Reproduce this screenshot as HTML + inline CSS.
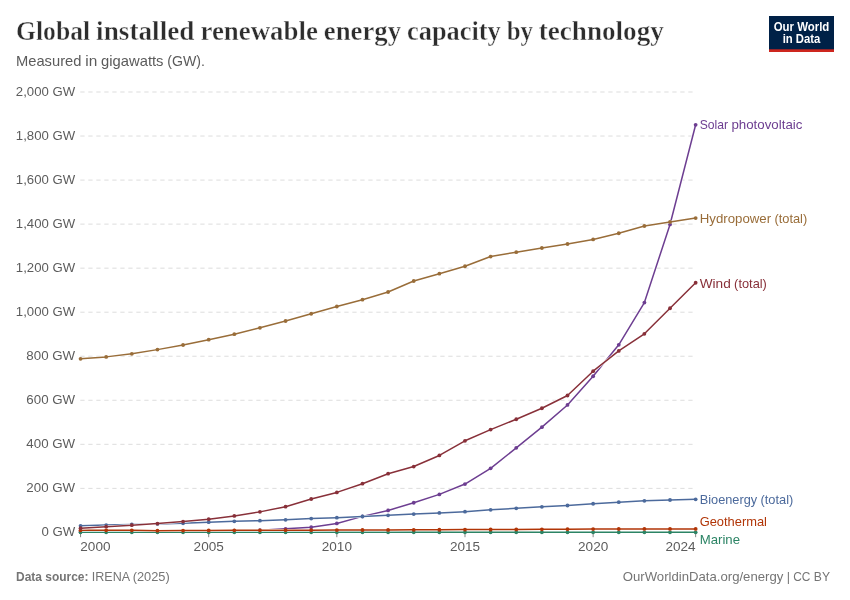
<!DOCTYPE html>
<html lang="en"><head><meta charset="utf-8"><title>Global installed renewable energy capacity by technology</title>
<style>html,body{margin:0;padding:0;background:#fff}svg{display:block}text{font-family:'Liberation Sans', sans-serif;} .t{font-family:'Liberation Serif', serif;}</style></head><body>
<svg width="850" height="600" viewBox="0 0 850 600">
<rect width="850" height="600" fill="#fff"/>
<text x="16.00" y="40" class="t" font-size="27" font-weight="700" fill="#2d2d2d" stroke="#fff" stroke-width="0.4"><tspan x="16.00" textLength="74.14" lengthAdjust="spacingAndGlyphs">Global</tspan> <tspan x="96.12" textLength="98.33" lengthAdjust="spacingAndGlyphs">installed</tspan> <tspan x="200.44" textLength="117.44" lengthAdjust="spacingAndGlyphs">renewable</tspan> <tspan x="323.86" textLength="77.19" lengthAdjust="spacingAndGlyphs">energy</tspan> <tspan x="407.03" textLength="93.69" lengthAdjust="spacingAndGlyphs">capacity</tspan> <tspan x="506.70" textLength="26.33" lengthAdjust="spacingAndGlyphs">by</tspan> <tspan x="538.70" textLength="125.12" lengthAdjust="spacingAndGlyphs">technology</tspan></text>
<text x="16.00" y="66" font-size="15" fill="#5b5b5b"><tspan x="16.00" textLength="65.41" lengthAdjust="spacingAndGlyphs">Measured</tspan> <tspan x="85.25" textLength="11.98" lengthAdjust="spacingAndGlyphs">in</tspan> <tspan x="101.08" textLength="62.41" lengthAdjust="spacingAndGlyphs">gigawatts</tspan> <tspan x="167.33" textLength="37.67" lengthAdjust="spacingAndGlyphs">(GW).</tspan></text>
<g><rect x="769" y="16" width="65" height="36" fill="#002147"/><rect x="769" y="49.3" width="65" height="2.7" fill="#ce261e"/>
<text x="773.70" y="31" font-size="12" font-weight="700" fill="#fff" textLength="55.60" lengthAdjust="spacingAndGlyphs">Our World</text>
<text x="782.65" y="43" font-size="12" font-weight="700" fill="#fff" textLength="37.70" lengthAdjust="spacingAndGlyphs">in Data</text>
</g>
<g stroke="#ddd" stroke-width="1" stroke-dasharray="4.3,3.7" fill="none">
<line x1="80.3" y1="488.36" x2="695.5" y2="488.36"/>
<line x1="80.3" y1="444.32" x2="695.5" y2="444.32"/>
<line x1="80.3" y1="400.28" x2="695.5" y2="400.28"/>
<line x1="80.3" y1="356.24" x2="695.5" y2="356.24"/>
<line x1="80.3" y1="312.20" x2="695.5" y2="312.20"/>
<line x1="80.3" y1="268.16" x2="695.5" y2="268.16"/>
<line x1="80.3" y1="224.12" x2="695.5" y2="224.12"/>
<line x1="80.3" y1="180.08" x2="695.5" y2="180.08"/>
<line x1="80.3" y1="136.04" x2="695.5" y2="136.04"/>
<line x1="80.3" y1="92.00" x2="695.5" y2="92.00"/>
</g>
<line x1="80.3" y1="532.4" x2="695.5" y2="532.4" stroke="#999" stroke-width="1"/>
<g font-size="13" fill="#5c5c5c">
<text x="41.42" y="536" textLength="33.78" lengthAdjust="spacingAndGlyphs">0 GW</text>
<text x="26.34" y="492" textLength="48.86" lengthAdjust="spacingAndGlyphs">200 GW</text>
<text x="26.34" y="448" textLength="48.86" lengthAdjust="spacingAndGlyphs">400 GW</text>
<text x="26.34" y="404" textLength="48.86" lengthAdjust="spacingAndGlyphs">600 GW</text>
<text x="26.34" y="360" textLength="48.86" lengthAdjust="spacingAndGlyphs">800 GW</text>
<text x="15.84" y="316" textLength="59.36" lengthAdjust="spacingAndGlyphs">1,000 GW</text>
<text x="15.84" y="272" textLength="59.36" lengthAdjust="spacingAndGlyphs">1,200 GW</text>
<text x="15.84" y="228" textLength="59.36" lengthAdjust="spacingAndGlyphs">1,400 GW</text>
<text x="15.84" y="184" textLength="59.36" lengthAdjust="spacingAndGlyphs">1,600 GW</text>
<text x="15.84" y="140" textLength="59.36" lengthAdjust="spacingAndGlyphs">1,800 GW</text>
<text x="15.84" y="96" textLength="59.36" lengthAdjust="spacingAndGlyphs">2,000 GW</text>
</g>
<g stroke="#888" stroke-width="1">
<line x1="80.55" y1="532.4" x2="80.55" y2="537.2"/>
<line x1="208.70" y1="532.4" x2="208.70" y2="537.2"/>
<line x1="336.84" y1="532.4" x2="336.84" y2="537.2"/>
<line x1="464.99" y1="532.4" x2="464.99" y2="537.2"/>
<line x1="593.13" y1="532.4" x2="593.13" y2="537.2"/>
<line x1="695.65" y1="532.4" x2="695.65" y2="537.2"/>
</g>
<g font-size="13" fill="#5c5c5c">
<text x="80.3" y="551" textLength="30.17" lengthAdjust="spacingAndGlyphs">2000</text>
<text x="193.61" y="551" textLength="30.17" lengthAdjust="spacingAndGlyphs">2005</text>
<text x="321.76" y="551" textLength="30.17" lengthAdjust="spacingAndGlyphs">2010</text>
<text x="449.90" y="551" textLength="30.17" lengthAdjust="spacingAndGlyphs">2015</text>
<text x="578.05" y="551" textLength="30.17" lengthAdjust="spacingAndGlyphs">2020</text>
<text x="665.43" y="551" textLength="30.17" lengthAdjust="spacingAndGlyphs">2024</text>
</g>
<g><path d="M80.55,531.82 L106.18,531.76 L131.81,531.69 L157.44,531.56 L183.07,531.34 L208.70,531.01 L234.32,530.68 L259.95,530.13 L285.58,528.81 L311.21,527.16 L336.84,523.42 L362.47,516.38 L388.10,510.44 L413.73,502.74 L439.36,494.38 L464.99,484.04 L490.62,468.31 L516.25,447.85 L541.88,427.17 L567.50,404.95 L593.13,376.24 L618.76,344.78 L644.39,302.54 L670.02,224.44 L695.65,124.78" fill="none" stroke="#fff" stroke-width="2.5" stroke-linejoin="round" stroke-linecap="butt"/>
<path d="M80.55,531.82 L106.18,531.76 L131.81,531.69 L157.44,531.56 L183.07,531.34 L208.70,531.01 L234.32,530.68 L259.95,530.13 L285.58,528.81 L311.21,527.16 L336.84,523.42 L362.47,516.38 L388.10,510.44 L413.73,502.74 L439.36,494.38 L464.99,484.04 L490.62,468.31 L516.25,447.85 L541.88,427.17 L567.50,404.95 L593.13,376.24 L618.76,344.78 L644.39,302.54 L670.02,224.44 L695.65,124.78" fill="none" stroke="#6D3E91" stroke-width="1.5" stroke-linejoin="round"/>
<g fill="#6D3E91"><circle cx="80.55" cy="531.82" r="1.9"/><circle cx="106.18" cy="531.76" r="1.9"/><circle cx="131.81" cy="531.69" r="1.9"/><circle cx="157.44" cy="531.56" r="1.9"/><circle cx="183.07" cy="531.34" r="1.9"/><circle cx="208.70" cy="531.01" r="1.9"/><circle cx="234.32" cy="530.68" r="1.9"/><circle cx="259.95" cy="530.13" r="1.9"/><circle cx="285.58" cy="528.81" r="1.9"/><circle cx="311.21" cy="527.16" r="1.9"/><circle cx="336.84" cy="523.42" r="1.9"/><circle cx="362.47" cy="516.38" r="1.9"/><circle cx="388.10" cy="510.44" r="1.9"/><circle cx="413.73" cy="502.74" r="1.9"/><circle cx="439.36" cy="494.38" r="1.9"/><circle cx="464.99" cy="484.04" r="1.9"/><circle cx="490.62" cy="468.31" r="1.9"/><circle cx="516.25" cy="447.85" r="1.9"/><circle cx="541.88" cy="427.17" r="1.9"/><circle cx="567.50" cy="404.95" r="1.9"/><circle cx="593.13" cy="376.24" r="1.9"/><circle cx="618.76" cy="344.78" r="1.9"/><circle cx="644.39" cy="302.54" r="1.9"/><circle cx="670.02" cy="224.44" r="1.9"/><circle cx="695.65" cy="124.78" r="1.9"/></g></g>
<g><path d="M80.55,532.35 L106.18,532.35 L131.81,532.35 L157.44,532.35 L183.07,532.35 L208.70,532.35 L234.32,532.35 L259.95,532.35 L285.58,532.35 L311.21,532.35 L336.84,532.35 L362.47,532.31 L388.10,532.31 L413.73,532.31 L439.36,532.31 L464.99,532.31 L490.62,532.31 L516.25,532.31 L541.88,532.31 L567.50,532.31 L593.13,532.31 L618.76,532.31 L644.39,532.31 L670.02,532.31 L695.65,532.31" fill="none" stroke="#fff" stroke-width="2.5" stroke-linejoin="round" stroke-linecap="butt"/>
<path d="M80.55,532.35 L106.18,532.35 L131.81,532.35 L157.44,532.35 L183.07,532.35 L208.70,532.35 L234.32,532.35 L259.95,532.35 L285.58,532.35 L311.21,532.35 L336.84,532.35 L362.47,532.31 L388.10,532.31 L413.73,532.31 L439.36,532.31 L464.99,532.31 L490.62,532.31 L516.25,532.31 L541.88,532.31 L567.50,532.31 L593.13,532.31 L618.76,532.31 L644.39,532.31 L670.02,532.31 L695.65,532.31" fill="none" stroke="#2C8465" stroke-width="1.5" stroke-linejoin="round"/>
<g fill="#2C8465"><circle cx="80.55" cy="532.35" r="1.9"/><circle cx="106.18" cy="532.35" r="1.9"/><circle cx="131.81" cy="532.35" r="1.9"/><circle cx="157.44" cy="532.35" r="1.9"/><circle cx="183.07" cy="532.35" r="1.9"/><circle cx="208.70" cy="532.35" r="1.9"/><circle cx="234.32" cy="532.35" r="1.9"/><circle cx="259.95" cy="532.35" r="1.9"/><circle cx="285.58" cy="532.35" r="1.9"/><circle cx="311.21" cy="532.35" r="1.9"/><circle cx="336.84" cy="532.35" r="1.9"/><circle cx="362.47" cy="532.31" r="1.9"/><circle cx="388.10" cy="532.31" r="1.9"/><circle cx="413.73" cy="532.31" r="1.9"/><circle cx="439.36" cy="532.31" r="1.9"/><circle cx="464.99" cy="532.31" r="1.9"/><circle cx="490.62" cy="532.31" r="1.9"/><circle cx="516.25" cy="532.31" r="1.9"/><circle cx="541.88" cy="532.31" r="1.9"/><circle cx="567.50" cy="532.31" r="1.9"/><circle cx="593.13" cy="532.31" r="1.9"/><circle cx="618.76" cy="532.31" r="1.9"/><circle cx="644.39" cy="532.31" r="1.9"/><circle cx="670.02" cy="532.31" r="1.9"/><circle cx="695.65" cy="532.31" r="1.9"/></g></g>
<g><path d="M80.55,530.35 L106.18,530.33 L131.81,530.28 L157.44,530.64 L183.07,530.57 L208.70,530.44 L234.32,530.35 L259.95,530.28 L285.58,530.22 L311.21,530.13 L336.84,530.04 L362.47,530.02 L388.10,529.93 L413.73,529.84 L439.36,529.73 L464.99,529.60 L490.62,529.51 L516.25,529.40 L541.88,529.29 L567.50,529.16 L593.13,529.10 L618.76,528.99 L644.39,528.96 L670.02,528.92 L695.65,528.88" fill="none" stroke="#fff" stroke-width="2.5" stroke-linejoin="round" stroke-linecap="butt"/>
<path d="M80.55,530.35 L106.18,530.33 L131.81,530.28 L157.44,530.64 L183.07,530.57 L208.70,530.44 L234.32,530.35 L259.95,530.28 L285.58,530.22 L311.21,530.13 L336.84,530.04 L362.47,530.02 L388.10,529.93 L413.73,529.84 L439.36,529.73 L464.99,529.60 L490.62,529.51 L516.25,529.40 L541.88,529.29 L567.50,529.16 L593.13,529.10 L618.76,528.99 L644.39,528.96 L670.02,528.92 L695.65,528.88" fill="none" stroke="#B13507" stroke-width="1.5" stroke-linejoin="round"/>
<g fill="#B13507"><circle cx="80.55" cy="530.35" r="1.9"/><circle cx="106.18" cy="530.33" r="1.9"/><circle cx="131.81" cy="530.28" r="1.9"/><circle cx="157.44" cy="530.64" r="1.9"/><circle cx="183.07" cy="530.57" r="1.9"/><circle cx="208.70" cy="530.44" r="1.9"/><circle cx="234.32" cy="530.35" r="1.9"/><circle cx="259.95" cy="530.28" r="1.9"/><circle cx="285.58" cy="530.22" r="1.9"/><circle cx="311.21" cy="530.13" r="1.9"/><circle cx="336.84" cy="530.04" r="1.9"/><circle cx="362.47" cy="530.02" r="1.9"/><circle cx="388.10" cy="529.93" r="1.9"/><circle cx="413.73" cy="529.84" r="1.9"/><circle cx="439.36" cy="529.73" r="1.9"/><circle cx="464.99" cy="529.60" r="1.9"/><circle cx="490.62" cy="529.51" r="1.9"/><circle cx="516.25" cy="529.40" r="1.9"/><circle cx="541.88" cy="529.29" r="1.9"/><circle cx="567.50" cy="529.16" r="1.9"/><circle cx="593.13" cy="529.10" r="1.9"/><circle cx="618.76" cy="528.99" r="1.9"/><circle cx="644.39" cy="528.96" r="1.9"/><circle cx="670.02" cy="528.92" r="1.9"/><circle cx="695.65" cy="528.88" r="1.9"/></g></g>
<g><path d="M80.55,525.84 L106.18,525.07 L131.81,524.41 L157.44,523.97 L183.07,523.31 L208.70,522.21 L234.32,521.33 L259.95,520.67 L285.58,519.79 L311.21,518.58 L336.84,517.70 L362.47,516.49 L388.10,515.28 L413.73,514.07 L439.36,512.97 L464.99,511.65 L490.62,509.78 L516.25,508.35 L541.88,506.81 L567.50,505.49 L593.13,503.73 L618.76,502.19 L644.39,500.87 L670.02,499.99 L695.65,499.33" fill="none" stroke="#fff" stroke-width="2.5" stroke-linejoin="round" stroke-linecap="butt"/>
<path d="M80.55,525.84 L106.18,525.07 L131.81,524.41 L157.44,523.97 L183.07,523.31 L208.70,522.21 L234.32,521.33 L259.95,520.67 L285.58,519.79 L311.21,518.58 L336.84,517.70 L362.47,516.49 L388.10,515.28 L413.73,514.07 L439.36,512.97 L464.99,511.65 L490.62,509.78 L516.25,508.35 L541.88,506.81 L567.50,505.49 L593.13,503.73 L618.76,502.19 L644.39,500.87 L670.02,499.99 L695.65,499.33" fill="none" stroke="#4C6A9C" stroke-width="1.5" stroke-linejoin="round"/>
<g fill="#4C6A9C"><circle cx="80.55" cy="525.84" r="1.9"/><circle cx="106.18" cy="525.07" r="1.9"/><circle cx="131.81" cy="524.41" r="1.9"/><circle cx="157.44" cy="523.97" r="1.9"/><circle cx="183.07" cy="523.31" r="1.9"/><circle cx="208.70" cy="522.21" r="1.9"/><circle cx="234.32" cy="521.33" r="1.9"/><circle cx="259.95" cy="520.67" r="1.9"/><circle cx="285.58" cy="519.79" r="1.9"/><circle cx="311.21" cy="518.58" r="1.9"/><circle cx="336.84" cy="517.70" r="1.9"/><circle cx="362.47" cy="516.49" r="1.9"/><circle cx="388.10" cy="515.28" r="1.9"/><circle cx="413.73" cy="514.07" r="1.9"/><circle cx="439.36" cy="512.97" r="1.9"/><circle cx="464.99" cy="511.65" r="1.9"/><circle cx="490.62" cy="509.78" r="1.9"/><circle cx="516.25" cy="508.35" r="1.9"/><circle cx="541.88" cy="506.81" r="1.9"/><circle cx="567.50" cy="505.49" r="1.9"/><circle cx="593.13" cy="503.73" r="1.9"/><circle cx="618.76" cy="502.19" r="1.9"/><circle cx="644.39" cy="500.87" r="1.9"/><circle cx="670.02" cy="499.99" r="1.9"/><circle cx="695.65" cy="499.33" r="1.9"/></g></g>
<g><path d="M80.55,528.26 L106.18,526.72 L131.81,525.18 L157.44,523.53 L183.07,521.53 L208.70,519.15 L234.32,515.94 L259.95,511.87 L285.58,506.70 L311.21,499.00 L336.84,492.40 L362.47,483.71 L388.10,473.70 L413.73,466.55 L439.36,455.44 L464.99,440.81 L490.62,429.59 L516.25,419.25 L541.88,408.25 L567.50,395.49 L593.13,371.18 L618.76,350.94 L644.39,333.78 L670.02,308.26 L695.65,282.74" fill="none" stroke="#fff" stroke-width="2.5" stroke-linejoin="round" stroke-linecap="butt"/>
<path d="M80.55,528.26 L106.18,526.72 L131.81,525.18 L157.44,523.53 L183.07,521.53 L208.70,519.15 L234.32,515.94 L259.95,511.87 L285.58,506.70 L311.21,499.00 L336.84,492.40 L362.47,483.71 L388.10,473.70 L413.73,466.55 L439.36,455.44 L464.99,440.81 L490.62,429.59 L516.25,419.25 L541.88,408.25 L567.50,395.49 L593.13,371.18 L618.76,350.94 L644.39,333.78 L670.02,308.26 L695.65,282.74" fill="none" stroke="#883039" stroke-width="1.5" stroke-linejoin="round"/>
<g fill="#883039"><circle cx="80.55" cy="528.26" r="1.9"/><circle cx="106.18" cy="526.72" r="1.9"/><circle cx="131.81" cy="525.18" r="1.9"/><circle cx="157.44" cy="523.53" r="1.9"/><circle cx="183.07" cy="521.53" r="1.9"/><circle cx="208.70" cy="519.15" r="1.9"/><circle cx="234.32" cy="515.94" r="1.9"/><circle cx="259.95" cy="511.87" r="1.9"/><circle cx="285.58" cy="506.70" r="1.9"/><circle cx="311.21" cy="499.00" r="1.9"/><circle cx="336.84" cy="492.40" r="1.9"/><circle cx="362.47" cy="483.71" r="1.9"/><circle cx="388.10" cy="473.70" r="1.9"/><circle cx="413.73" cy="466.55" r="1.9"/><circle cx="439.36" cy="455.44" r="1.9"/><circle cx="464.99" cy="440.81" r="1.9"/><circle cx="490.62" cy="429.59" r="1.9"/><circle cx="516.25" cy="419.25" r="1.9"/><circle cx="541.88" cy="408.25" r="1.9"/><circle cx="567.50" cy="395.49" r="1.9"/><circle cx="593.13" cy="371.18" r="1.9"/><circle cx="618.76" cy="350.94" r="1.9"/><circle cx="644.39" cy="333.78" r="1.9"/><circle cx="670.02" cy="308.26" r="1.9"/><circle cx="695.65" cy="282.74" r="1.9"/></g></g>
<g><path d="M80.55,358.86 L106.18,356.88 L131.81,353.80 L157.44,349.62 L183.07,345.00 L208.70,339.72 L234.32,334.22 L259.95,327.84 L285.58,321.02 L311.21,313.76 L336.84,306.50 L362.47,299.68 L388.10,291.98 L413.73,280.98 L439.36,273.72 L464.99,266.24 L490.62,256.56 L516.25,252.16 L541.88,247.98 L567.50,244.02 L593.13,239.40 L618.76,233.24 L644.39,225.98 L670.02,222.02 L695.65,218.06" fill="none" stroke="#fff" stroke-width="2.5" stroke-linejoin="round" stroke-linecap="butt"/>
<path d="M80.55,358.86 L106.18,356.88 L131.81,353.80 L157.44,349.62 L183.07,345.00 L208.70,339.72 L234.32,334.22 L259.95,327.84 L285.58,321.02 L311.21,313.76 L336.84,306.50 L362.47,299.68 L388.10,291.98 L413.73,280.98 L439.36,273.72 L464.99,266.24 L490.62,256.56 L516.25,252.16 L541.88,247.98 L567.50,244.02 L593.13,239.40 L618.76,233.24 L644.39,225.98 L670.02,222.02 L695.65,218.06" fill="none" stroke="#996D39" stroke-width="1.5" stroke-linejoin="round"/>
<g fill="#996D39"><circle cx="80.55" cy="358.86" r="1.9"/><circle cx="106.18" cy="356.88" r="1.9"/><circle cx="131.81" cy="353.80" r="1.9"/><circle cx="157.44" cy="349.62" r="1.9"/><circle cx="183.07" cy="345.00" r="1.9"/><circle cx="208.70" cy="339.72" r="1.9"/><circle cx="234.32" cy="334.22" r="1.9"/><circle cx="259.95" cy="327.84" r="1.9"/><circle cx="285.58" cy="321.02" r="1.9"/><circle cx="311.21" cy="313.76" r="1.9"/><circle cx="336.84" cy="306.50" r="1.9"/><circle cx="362.47" cy="299.68" r="1.9"/><circle cx="388.10" cy="291.98" r="1.9"/><circle cx="413.73" cy="280.98" r="1.9"/><circle cx="439.36" cy="273.72" r="1.9"/><circle cx="464.99" cy="266.24" r="1.9"/><circle cx="490.62" cy="256.56" r="1.9"/><circle cx="516.25" cy="252.16" r="1.9"/><circle cx="541.88" cy="247.98" r="1.9"/><circle cx="567.50" cy="244.02" r="1.9"/><circle cx="593.13" cy="239.40" r="1.9"/><circle cx="618.76" cy="233.24" r="1.9"/><circle cx="644.39" cy="225.98" r="1.9"/><circle cx="670.02" cy="222.02" r="1.9"/><circle cx="695.65" cy="218.06" r="1.9"/></g></g>
<g font-size="13">
<text x="699.70" y="129" fill="#6D3E91"><tspan x="699.70" textLength="28.38" lengthAdjust="spacingAndGlyphs">Solar</tspan> <tspan x="731.40" textLength="71.03" lengthAdjust="spacingAndGlyphs">photovoltaic</tspan></text>
<text x="699.7" y="544" fill="#2C8465" textLength="40.31" lengthAdjust="spacingAndGlyphs">Marine</text>
<text x="699.7" y="526" fill="#B13507" textLength="67.28" lengthAdjust="spacingAndGlyphs">Geothermal</text>
<text x="699.70" y="504" fill="#4C6A9C"><tspan x="699.70" textLength="57.47" lengthAdjust="spacingAndGlyphs">Bioenergy</tspan> <tspan x="760.50" textLength="32.78" lengthAdjust="spacingAndGlyphs">(total)</tspan></text>
<text x="699.70" y="288" fill="#883039"><tspan x="699.70" textLength="31.08" lengthAdjust="spacingAndGlyphs">Wind</tspan> <tspan x="734.11" textLength="32.78" lengthAdjust="spacingAndGlyphs">(total)</tspan></text>
<text x="699.70" y="223" fill="#996D39"><tspan x="699.70" textLength="71.42" lengthAdjust="spacingAndGlyphs">Hydropower</tspan> <tspan x="774.45" textLength="32.78" lengthAdjust="spacingAndGlyphs">(total)</tspan></text>
</g>
<text x="16" y="581" font-size="13" font-weight="700" fill="#757575" textLength="72.44" lengthAdjust="spacingAndGlyphs">Data source:</text>
<text x="91.76" y="581" font-size="13" fill="#757575"><tspan x="91.76" textLength="37.59" lengthAdjust="spacingAndGlyphs">IRENA</tspan> <tspan x="132.68" textLength="37.11" lengthAdjust="spacingAndGlyphs">(2025)</tspan></text>
<text x="622.78" y="581" font-size="13" fill="#757575"><tspan x="622.78" textLength="160.58" lengthAdjust="spacingAndGlyphs">OurWorldinData.org/energy</tspan> <tspan x="786.69" textLength="3.27" lengthAdjust="spacingAndGlyphs">|</tspan> <tspan x="793.28" textLength="17.19" lengthAdjust="spacingAndGlyphs">CC</tspan> <tspan x="813.80" textLength="16.22" lengthAdjust="spacingAndGlyphs">BY</tspan></text>
</svg></body></html>
